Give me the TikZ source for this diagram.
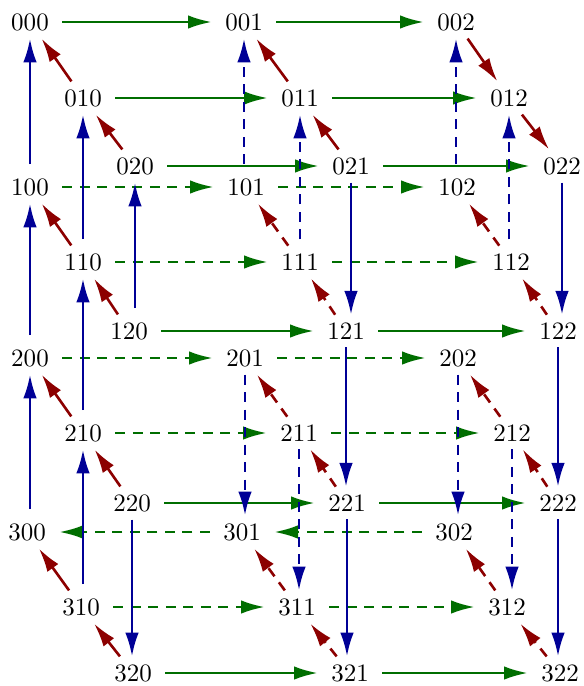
\documentclass[tikz,border=0pt]{standalone}
\usetikzlibrary{arrows.meta}
\definecolor{cgreen}{RGB}{0,110,0}
\definecolor{cblue}{RGB}{0,0,150}
\definecolor{cred}{RGB}{140,0,0}
\begin{document}
\begin{tikzpicture}[x=0.4pt,y=-0.4pt,
  lab/.style={inner xsep=5.2pt, inner ysep=3pt, font=\fontsize{10}{12}\selectfont},
  edge/.style={line width=1.05pt, -{Latex[length=9.5pt,width=5.4pt]}},
  ge/.style={edge, cgreen},
  be/.style={edge, cblue},
  re/.style={edge, cred},
  dsh/.style={dash pattern=on 4pt off 3pt},
  upe/.style={be, shorten <=2.5pt},
  dne/.style={be},
]
\useasboundingbox (0,0) rectangle (584,686);
% i = 0
\node[lab] (n000) at (30,22) {000};
\node[lab] (n001) at (244,22) {001};
\node[lab] (n002) at (456,22) {002};
\node[lab] (n010) at (83,98) {010};
\node[lab] (n011) at (300,98) {011};
\node[lab] (n012) at (509,98) {012};
\node[lab] (n020) at (135,166) {020};
\node[lab] (n021) at (351,166) {021};
\node[lab] (n022) at (562,166) {022};
% i = 1
\node[lab] (n100) at (30,187) {100};
\node[lab] (n101) at (246,187) {101};
\node[lab] (n102) at (457,187) {102};
\node[lab] (n110) at (83,262) {110};
\node[lab] (n111) at (300,262) {111};
\node[lab] (n112) at (511,262) {112};
\node[lab] (n120) at (129,331) {120};
\node[lab] (n121) at (346,331) {121};
\node[lab] (n122) at (558,331) {122};
% i = 2
\node[lab] (n200) at (30,358) {200};
\node[lab] (n201) at (245,358) {201};
\node[lab] (n202) at (458,358) {202};
\node[lab] (n210) at (83,433) {210};
\node[lab] (n211) at (299,433) {211};
\node[lab] (n212) at (512,433) {212};
\node[lab] (n220) at (132,503) {220};
\node[lab] (n221) at (347,503) {221};
\node[lab] (n222) at (558,503) {222};
% i = 3
\node[lab] (n300) at (27,532) {300};
\node[lab] (n301) at (242,532) {301};
\node[lab] (n302) at (454,532) {302};
\node[lab] (n310) at (81,607) {310};
\node[lab] (n311) at (297,607) {311};
\node[lab] (n312) at (507,607) {312};
\node[lab] (n320) at (133,673) {320};
\node[lab] (n321) at (350,673) {321};
\node[lab] (n322) at (560,673) {322};

% green, k direction
\draw[ge] (n000) -- (n001);
\draw[ge] (n001) -- (n002);
\draw[ge] (n010) -- (n011);
\draw[ge] (n011) -- (n012);
\draw[ge] (n020) -- (n021);
\draw[ge] (n021) -- (n022);
\draw[ge,dsh] (n100) -- (n101);
\draw[ge,dsh] (n101) -- (n102);
\draw[ge,dsh] (n110) -- (n111);
\draw[ge,dsh] (n111) -- (n112);
\draw[ge] (n120) -- (n121);
\draw[ge] (n121) -- (n122);
\draw[ge,dsh] (n200) -- (n201);
\draw[ge,dsh] (n201) -- (n202);
\draw[ge,dsh] (n210) -- (n211);
\draw[ge,dsh] (n211) -- (n212);
\draw[ge] (n220) -- (n221);
\draw[ge] (n221) -- (n222);
\draw[ge,dsh] (n301) -- (n300);
\draw[ge,dsh] (n302) -- (n301);
\draw[ge,dsh] (n310) -- (n311);
\draw[ge,dsh] (n311) -- (n312);
\draw[ge] (n320) -- (n321);
\draw[ge] (n321) -- (n322);

% red, j direction
\draw[re] (n010) -- (n000);
\draw[re] (n020) -- (n010);
\draw[re] (n011) -- (n001);
\draw[re] (n021) -- (n011);
\draw[re] (n002) -- (n012);
\draw[re] (n012) -- (n022);
\draw[re] (n110) -- (n100);
\draw[re] (n120) -- (n110);
\draw[re,dsh] (n111) -- (n101);
\draw[re,dsh] (n121) -- (n111);
\draw[re,dsh] (n112) -- (n102);
\draw[re,dsh] (n122) -- (n112);
\draw[re] (n210) -- (n200);
\draw[re] (n220) -- (n210);
\draw[re,dsh] (n211) -- (n201);
\draw[re,dsh] (n221) -- (n211);
\draw[re,dsh] (n212) -- (n202);
\draw[re,dsh] (n222) -- (n212);
\draw[re] (n310) -- (n300);
\draw[re] (n320) -- (n310);
\draw[re,dsh] (n311) -- (n301);
\draw[re,dsh] (n321) -- (n311);
\draw[re,dsh] (n312) -- (n302);
\draw[re,dsh] (n322) -- (n312);

% blue, i direction
\draw[upe] (n100.north -| n000) -- (n000.south);
\draw[upe] (n200.north -| n100) -- (n100.south);
\draw[upe] (n300.north -| n200) -- (n200.south);
\draw[upe] (n110.north -| n010) -- (n010.south);
\draw[upe] (n210.north -| n110) -- (n110.south);
\draw[upe] (n310.north -| n210) -- (n210.south);
\draw[upe] (n120.north -| n020) -- (n020.south);
\draw[upe,dsh] (n101.north -| n001) -- (n001.south);
\draw[upe,dsh] (n111.north -| n011) -- (n011.south);
\draw[upe,dsh] (n102.north -| n002) -- (n002.south);
\draw[upe,dsh] (n112.north -| n012) -- (n012.south);
\draw[dne] (n021.south) -- (n121.north -| n021);
\draw[dne] (n121.south) -- (n221.north -| n121);
\draw[dne] (n221.south) -- (n321.north -| n221);
\draw[dne] (n022.south) -- (n122.north -| n022);
\draw[dne] (n122.south) -- (n222.north -| n122);
\draw[dne] (n222.south) -- (n322.north -| n222);
\draw[dne] (n220.south) -- (n320.north -| n220);
\draw[dne,dsh] (n201.south) -- (n301.north -| n201);
\draw[dne,dsh] (n211.south) -- (n311.north -| n211);
\draw[dne,dsh] (n202.south) -- (n302.north -| n202);
\draw[dne,dsh] (n212.south) -- (n312.north -| n212);
\end{tikzpicture}
\end{document}
